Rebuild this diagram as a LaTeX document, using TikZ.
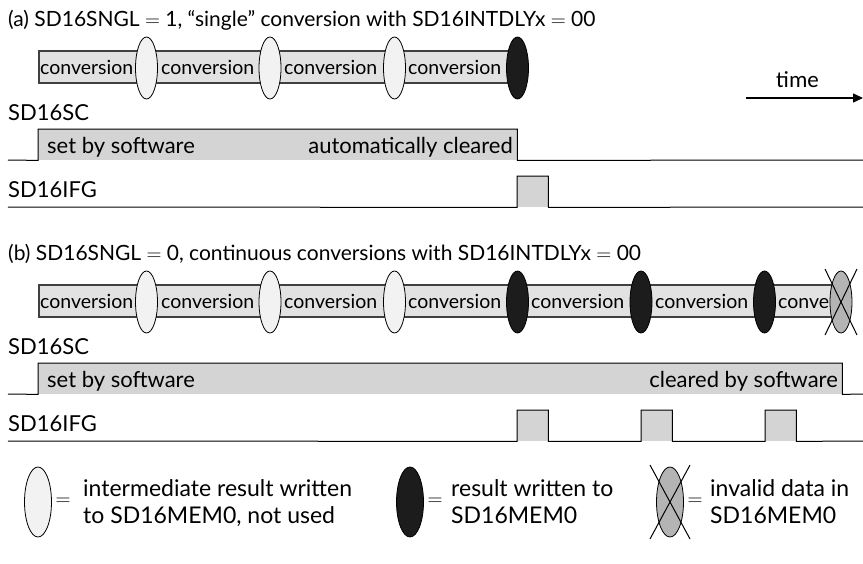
\documentclass[tikz,border=0pt]{standalone}
\usepackage{fontspec}
\setmainfont{Lato}
\newfontfamily\timefont{Carlito}
\usetikzlibrary{shapes.geometric,arrows.meta}
\definecolor{barfill}{RGB}{226,226,226}
\definecolor{barline}{RGB}{64,64,64}
\definecolor{boxfill}{RGB}{212,212,212}
\definecolor{lightfill}{RGB}{242,242,242}
\definecolor{darkfill}{RGB}{28,28,28}
\definecolor{grayfill}{RGB}{180,180,180}
\begin{document}
\begin{tikzpicture}[x=1pt,y=-1pt,
  txt/.style={inner sep=0pt,font=\fontsize{22}{26}\selectfont},
  lbl/.style={txt,anchor=base west},
  ttl/.style={lbl,font=\fontsize{21}{25}\selectfont},
  cnv/.style={lbl,font=\fontsize{19.5}{23}\selectfont},
  leg/.style={lbl,font=\fontsize{23}{27}\selectfont},
  eqs/.style={inner sep=0pt,font=\fontsize{22}{26}\selectfont},
  convbar/.style={fill=barfill,draw=barline,line width=1.6pt,inner sep=0pt,anchor=west,minimum height=32pt},
  lightell/.style={ellipse,draw=black,line width=0.8pt,fill=lightfill,minimum width=22pt,minimum height=62pt,inner sep=0pt},
  darkell/.style={lightell,fill=darkfill},
  grayell/.style={lightell,fill=grayfill},
  legell/.style={minimum width=27pt,minimum height=70pt},
  sig/.style={draw=black,line width=1pt},
  sigfill/.style={fill=boxfill,inner sep=0pt,anchor=north west},
  xline/.style={draw=black,line width=1pt},
]
\useasboundingbox[fill=white] (0,0) rectangle (863,563);

% ---------------- (a) ----------------
\node[ttl] (titleA) at (8,26) {(a) SD16SNGL $=$ 1, “single” conversion with SD16INTDLYx $=$ 00};
\node[convbar,minimum width=480pt] (barA) at (38,67) {};
\node[cnv] (cA1) at (40,74) {conversion};
\node[cnv] (cA2) at (161,74) {conversion};
\node[cnv] (cA3) at (284,74) {conversion};
\node[cnv] (cA4) at (408,74) {conversion};
\node[lightell] (eA1) at (146.5,68) {};
\node[lightell] (eA2) at (270,68) {};
\node[lightell] (eA3) at (394.5,68) {};
\node[darkell] (eA4) at (517.5,68) {};

\node[lbl,font=\timefont\fontsize{23}{27}\selectfont] (timeL) at (776,87) {time};
\coordinate (tS) at (746,98);
\coordinate (tE) at (863,98);
\draw[line width=1.3pt,-{Triangle[length=10pt,width=9pt]}] (tS) -- (tE);

\node[lbl] (scA) at (8,120) {SD16SC};
\node[sigfill,minimum width=479pt,minimum height=31pt] (scboxA) at (38,129) {};
\coordinate (scA0) at (8,160);
\coordinate (scA9) at (863,160);
\draw[sig] (scA0) -- (scboxA.south west) -- (scboxA.north west) -- (scboxA.north east) -- (scboxA.south east) -- (scA9);
\node[lbl] (setA) at (47,153) {set by software};
\node[txt,anchor=base east] (autoA) at (513,153) {automatically cleared};

\node[lbl] (ifgA) at (8,197) {SD16IFG};
\node[sigfill,minimum width=31pt,minimum height=31pt] (pA) at (517,176) {};
\coordinate (ifA0) at (8,207);
\coordinate (ifA9) at (863,207);
\draw[sig] (ifA0) -- (pA.south west) -- (pA.north west) -- (pA.north east) -- (pA.south east) -- (ifA9);

% ---------------- (b) ----------------
\node[ttl] (titleB) at (8,260) {(b) SD16SNGL $=$ 0, continuous conversions with SD16INTDLYx $=$ 00};
\node[convbar,minimum width=803pt] (barB) at (38,301) {};
\node[cnv] (cB1) at (40,308) {conversion};
\node[cnv] (cB2) at (161,308) {conversion};
\node[cnv] (cB3) at (284,308) {conversion};
\node[cnv] (cB4) at (408,308) {conversion};
\node[cnv] (cB5) at (531,308) {conversion};
\node[cnv] (cB6) at (655,308) {conversion};
\node[cnv] (cB7) at (778,308) {conve};
\node[lightell] (eB1) at (146.5,302) {};
\node[lightell] (eB2) at (270,302) {};
\node[lightell] (eB3) at (394.5,302) {};
\node[darkell] (eB4) at (517.5,302) {};
\node[darkell] (eB5) at (641,302) {};
\node[darkell] (eB6) at (764.5,302) {};
\node[grayell] (eB7) at (841,302) {};
\coordinate (xB1) at (825,269);
\coordinate (xB2) at (857,335);
\coordinate (xB3) at (857,269);
\coordinate (xB4) at (825,335);
\draw[xline] (xB1) -- (xB2);
\draw[xline] (xB3) -- (xB4);

\node[lbl] (scB) at (8,354) {SD16SC};
\node[sigfill,minimum width=804pt,minimum height=31pt] (scboxB) at (38,363) {};
\coordinate (scB0) at (8,394);
\coordinate (scB9) at (863,394);
\draw[sig] (scB0) -- (scboxB.south west) -- (scboxB.north west) -- (scboxB.north east) -- (scboxB.south east) -- (scB9);
\node[lbl] (setB) at (47,387) {set by software};
\node[txt,anchor=base east] (clrB) at (838,387) {cleared by software};

\node[lbl] (ifgB) at (8,431) {SD16IFG};
\node[sigfill,minimum width=31pt,minimum height=31pt] (pB1) at (517,410) {};
\node[sigfill,minimum width=31pt,minimum height=31pt] (pB2) at (641,410) {};
\node[sigfill,minimum width=31pt,minimum height=31pt] (pB3) at (765,410) {};
\coordinate (ifB0) at (8,441);
\coordinate (ifB9) at (863,441);
\draw[sig] (ifB0) -- (pB1.south west) -- (pB1.north west) -- (pB1.north east) -- (pB1.south east)
  -- (pB2.south west) -- (pB2.north west) -- (pB2.north east) -- (pB2.south east)
  -- (pB3.south west) -- (pB3.north west) -- (pB3.north east) -- (pB3.south east) -- (ifB9);

% ---------------- legend ----------------
\node[lightell,legell] (lg1) at (38,502) {};
\node[eqs] (eq1) at (63,502) {$=$};
\node[leg] (lt1a) at (83,496) {intermediate result written};
\node[leg] (lt1b) at (83,523) {to SD16MEM0, not used};

\node[darkell,legell] (lg2) at (410,502) {};
\node[eqs] (eq2) at (435,502) {$=$};
\node[leg] (lt2a) at (451,496) {result written to};
\node[leg] (lt2b) at (451,523) {SD16MEM0};

\node[grayell,legell] (lg3) at (670,502) {};
\coordinate (xL1) at (650,465);
\coordinate (xL2) at (690,539);
\coordinate (xL3) at (690,465);
\coordinate (xL4) at (650,539);
\draw[xline] (xL1) -- (xL2);
\draw[xline] (xL3) -- (xL4);
\node[eqs] (eq3) at (695,502) {$=$};
\node[leg] (lt3a) at (710,496) {invalid data in};
\node[leg] (lt3b) at (710,523) {SD16MEM0};
\end{tikzpicture}
\end{document}
